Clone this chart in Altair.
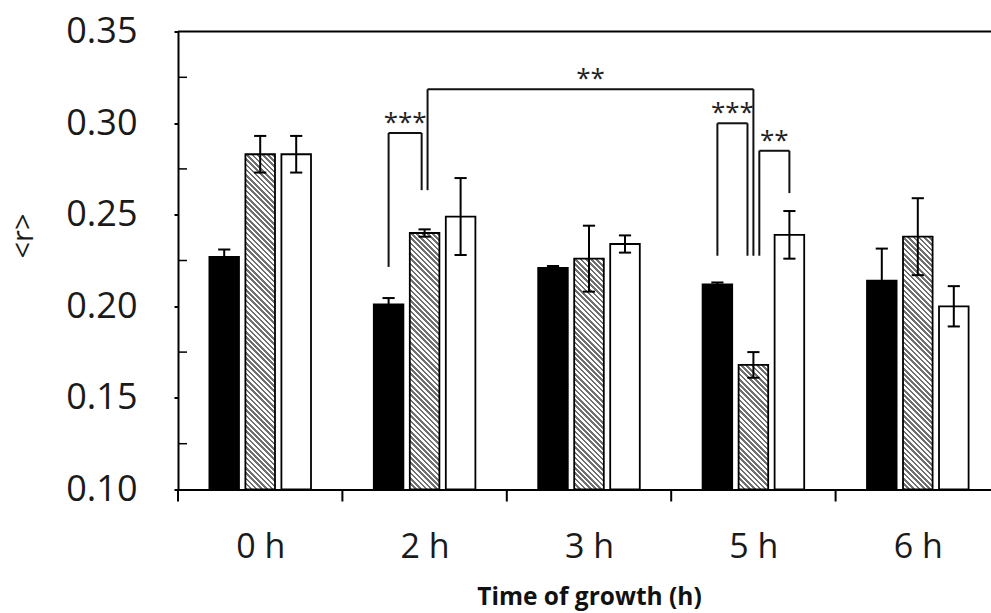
import json
import math
import altair as alt
import pandas as pd

# ---------------- data ----------------
categories = ["0 h", "2 h", "3 h", "5 h", "6 h"]
series = ["solid", "hatched", "open"]

solid_mean = [0.227, 0.201, 0.221, 0.212, 0.214]
solid_err = [0.004, 0.0035, 0.001, 0.001, 0.0175]
hatched_mean = [0.283, 0.240, 0.226, 0.168, 0.238]
hatched_err = [0.010, 0.002, 0.018, 0.007, 0.021]
open_mean = [0.283, 0.249, 0.234, 0.239, 0.200]
open_err = [0.010, 0.021, 0.0047, 0.013, 0.011]

y_ticks = [0.10, 0.15, 0.20, 0.25, 0.30, 0.35]
y_minor = [0.125, 0.175, 0.225, 0.275, 0.325]

# significance brackets
br_label = ["***", "**", "***", "**"]
br_top = [0.2946, 0.3185, 0.2999, 0.2849]
br_left_cat = ["2 h", "2 h", "5 h", "5 h"]
br_left_ser = ["solid", "hatched", "solid", "hatched"]
br_left_nudge = [0, 0.5, 0, 1]
br_left_y = [0.2215, 0.2634, 0.2276, 0.2276]
br_right_cat = ["2 h", "5 h", "5 h", "5 h"]
br_right_ser = ["hatched", "hatched", "hatched", "open"]
br_right_nudge = [-0.5, 0, -1, 0]
br_right_y = [0.2634, 0.2276, 0.2276, 0.2618]

# ---------------- layout constants ----------------
PLOT_W, PLOT_H = 813, 458
RANGE_W = 822            # axis continues past the right edge of the picture
BW, SP = 0.18, 0.219     # bar width / bar spacing, in category units
NUDGE, CAP = 0.036, 0.037
FONT = "Open Sans"

CATS = json.dumps(categories)
SERS = json.dumps(series)

rows = []
for means, errs, s in [(solid_mean, solid_err, "solid"),
                       (hatched_mean, hatched_err, "hatched"),
                       (open_mean, open_err, "open")]:
    for c, m, e in zip(categories, means, errs):
        rows.append({"cat": c, "series": s, "mean": m, "err": e})
df = pd.DataFrame(rows)

seg_rows = []
lab_rows = []
for i in range(len(br_label)):
    L = (br_left_cat[i], br_left_ser[i], br_left_nudge[i])
    R = (br_right_cat[i], br_right_ser[i], br_right_nudge[i])
    for a, b, y1, y2 in [(L, L, br_left_y[i], br_top[i]),
                         (R, R, br_right_y[i], br_top[i]),
                         (L, R, br_top[i], br_top[i])]:
        seg_rows.append({"ca": a[0], "sa": a[1], "na": a[2],
                         "cb": b[0], "sb": b[1], "nb": b[2],
                         "y1": y1, "y2": y2})
    lab_rows.append({"ca": L[0], "sa": L[1], "na": L[2],
                     "cb": R[0], "sb": R[1], "nb": R[2],
                     "top": br_top[i], "label": br_label[i]})
seg_df = pd.DataFrame(seg_rows)
lab_df = pd.DataFrame(lab_rows)

xs = alt.Scale(domain=[0, 5], range=[0, RANGE_W], nice=False, zero=False)
ys = alt.Scale(domain=[0.10, 0.35], nice=False, zero=False)

pos = lambda c, s, n: (f"indexof({CATS}, datum.{c}) + 0.5 + "
                       f"(indexof({SERS}, datum.{s}) - 1) * {SP} + datum.{n} * {NUDGE}")

x_axis = alt.Axis(
    values=[i + 0.5 for i in range(len(categories))],
    labelExpr=f"{CATS}[floor(datum.value)]",
    ticks=False, tickSize=0, grid=False,
    domainColor="black", domainWidth=2,
    labelFont=FONT, labelFontSize=34, labelColor="#1a1a1a",
    labelPadding=68, labelBaseline="alphabetic",
    labelFlush=False, labelOverlap=False,
    title="Time of growth (h)", titleFont=FONT, titleFontSize=24.5,
    titleFontWeight="bold", titleColor="#111111",
    titleY=115, titleBaseline="alphabetic",
)
y_axis = alt.Axis(
    values=y_ticks, format=".2f", grid=False,
    tickSize=4, tickWidth=2, tickColor="black",
    domainColor="black", domainWidth=2,
    labelFont=FONT, labelFontSize=36, labelColor="#1a1a1a", labelPadding=37,
    title="<r>", titleFont=FONT, titleFontSize=29, titleFontWeight="normal",
    titleColor="#1a1a1a", titleAngle=270, titleX=-155, titleY=204,
    titleAlign="center", titleBaseline="middle",
)


def X(field):
    return alt.X(field, scale=xs, axis=x_axis)


def Y(field):
    return alt.Y(field, scale=ys, axis=y_axis)


base = alt.Chart(df).transform_calculate(
    ci=f"indexof({CATS}, datum.cat)",
    si=f"indexof({SERS}, datum.series)",
).transform_calculate(
    xc=f"datum.ci + 0.5 + (datum.si - 1) * {SP}",
    lo="datum.mean - datum.err",
    hi="datum.mean + datum.err",
    base="0.10",
).transform_calculate(
    x0=f"datum.xc - {BW / 2}",
    x1=f"datum.xc + {BW / 2}",
    capl=f"datum.xc - {CAP}",
    capr=f"datum.xc + {CAP}",
)

bars = base.transform_filter(alt.datum.series != "hatched").mark_rect(
    stroke="black", strokeWidth=1.8
).encode(
    x=X("x0:Q"), x2="x1:Q",
    y=Y("mean:Q"), y2="base:Q",
    fill=alt.Fill("series:N", legend=None,
                  scale=alt.Scale(domain=series, range=["#000000", "#aaaaaa", "#ffffff"])),
)


def hatch(w, h, period=3.7, dark=0.5, c_dark="#707070", c_light="#ffffff"):
    s = (w + h) / (w * w + h * h)
    n = (w + h) / math.sqrt(2) / period
    stops = []
    k = 0
    while k < n:
        a = min(k / n, 1.0)
        b = min((k + dark) / n, 1.0)
        c = min((k + 1) / n, 1.0)
        stops += [alt.GradientStop(offset=a, color=c_dark),
                  alt.GradientStop(offset=b, color=c_dark),
                  alt.GradientStop(offset=b, color=c_light),
                  alt.GradientStop(offset=c, color=c_light)]
        k += 1
    return alt.LinearGradient(gradient="linear", stops=stops,
                              x1=0, y1=1, x2=s * w, y2=1 - s * h)


bar_w_px = BW * RANGE_W / 5
hatched_layers = []
for c, m in zip(categories, hatched_mean):
    h_px = (m - 0.10) / 0.25 * PLOT_H
    hatched_layers.append(
        base.transform_filter(
            (alt.datum.series == "hatched") & (alt.datum.cat == c)
        ).mark_rect(fill=hatch(bar_w_px, h_px), stroke="black", strokeWidth=1.8).encode(
            x=X("x0:Q"), x2="x1:Q",
            y=Y("mean:Q"), y2="base:Q",
        )
    )

err_line = base.mark_rule(color="black", strokeWidth=2).encode(
    x=X("xc:Q"), y=Y("lo:Q"), y2="hi:Q",
)
cap_hi = base.mark_rule(color="black", strokeWidth=2).encode(
    x=X("capl:Q"), x2="capr:Q", y=Y("hi:Q"),
)
cap_lo = base.mark_rule(color="black", strokeWidth=2).encode(
    x=X("capl:Q"), x2="capr:Q", y=Y("lo:Q"),
)

brackets = alt.Chart(seg_df).transform_calculate(
    xa=pos("ca", "sa", "na"), xb=pos("cb", "sb", "nb"),
).mark_rule(color="#111111", strokeWidth=2).encode(
    x=X("xa:Q"), x2="xb:Q",
    y=Y("y1:Q"), y2="y2:Q",
)

labels = alt.Chart(lab_df).transform_calculate(
    xa=pos("ca", "sa", "na"), xb=pos("cb", "sb", "nb"),
).transform_calculate(
    xm="(datum.xa + datum.xb) / 2",
).mark_text(font=FONT, fontSize=26, color="#222222", align="center",
            baseline="alphabetic", dy=-2).encode(
    x=X("xm:Q"), y=Y("top:Q"),
    text="label:N",
)

minor = alt.Chart(pd.DataFrame({"v": y_minor})).mark_rule(
    color="black", strokeWidth=1.5
).encode(
    y=Y("v:Q"),
    x=alt.value(0), x2=alt.value(9),
)

xticks = alt.Chart(pd.DataFrame({"b": list(range(len(categories) + 1))})).mark_rule(
    color="black", strokeWidth=2
).encode(
    x=X("b:Q"),
    y=alt.value(PLOT_H), y2=alt.value(PLOT_H + 12),
)

frame_top = alt.Chart(pd.DataFrame({"v": [0.35]})).mark_rule(
    color="black", strokeWidth=2
).encode(
    y=Y("v:Q"),
    x=alt.value(0), x2=alt.value(RANGE_W),
)

chart = alt.layer(
    bars, *hatched_layers, err_line, cap_hi, cap_lo, brackets, labels,
    minor, xticks, frame_top,
).properties(
    width=PLOT_W, height=PLOT_H,
    autosize=alt.AutoSizeParams(type="none"),
    padding={"left": 178, "top": 31.5, "right": 0, "bottom": 123.5},
    background="white",
).configure_view(stroke=None)

chart.save("out.html", embed_options={"renderer": "svg", "actions": False})
